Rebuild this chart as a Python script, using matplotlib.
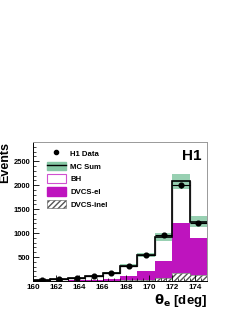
import numpy as np
import matplotlib.pyplot as plt
from matplotlib.patches import Patch
from matplotlib.lines import Line2D
from matplotlib.ticker import MultipleLocator

plt.rcParams['font.family'] = ['Liberation Sans', 'DejaVu Sans']
plt.rcParams['font.weight'] = 'bold'

# bin edges in theta_e (deg)
edges = np.arange(160, 175.01, 1.5)
centers = 0.5 * (edges[:-1] + edges[1:])

# values
data = [12, 35, 70, 98, 172, 309, 545, 955, 1993, 1214]
data_err = [5, 7, 10, 12, 15, 20, 25, 32, 45, 36]
mc_sum = [20, 35, 63, 105, 168, 323, 540, 919, 2077, 1236]
mc_err = [3, 4, 6, 9, 14, 27, 45, 76, 165, 115]
dvcs_inel = [2, 3, 5, 5, 8, 12, 25, 55, 168, 126]
dvcs_el = [3, 5, 8, 15, 40, 100, 185, 365, 1040, 780]

mc_sum = np.array(mc_sum)
mc_err = np.array(mc_err)
inel = np.array(dvcs_inel)
el_top = inel + np.array(dvcs_el)

magenta = '#be14be'
green = '#86c8a5'

fig = plt.figure(figsize=(2.4, 3.11), dpi=100)
ax = fig.add_axes([0.1375, 0.0965, 0.725, 0.4469])

# stacked MC: inel (hatched), el (magenta), BH (white, up to sum)
ax.stairs(mc_sum, edges, baseline=el_top, fill=True, facecolor='white',
          edgecolor='none')
ax.stairs(mc_sum, edges, baseline=None, color='#888888', lw=1.0)
ax.stairs(el_top, edges, baseline=inel, fill=True, color=magenta, lw=0)
ax.stairs(inel, edges, baseline=0, fill=True, facecolor='white',
          edgecolor='#555555', hatch='//////', lw=0.4)

# MC sum band and line
ax.stairs(mc_sum + mc_err, edges, baseline=mc_sum - mc_err, fill=True,
          color=green, alpha=0.85, lw=0)
ax.stairs(mc_sum, edges, baseline=None, color='black', lw=1.2)

# data
ax.errorbar(centers, data, xerr=0.75, yerr=data_err, fmt='o', color='black',
            ms=3.4, elinewidth=0.8, capsize=0)

ax.set_xlim(160, 175)
ax.set_ylim(0, 2900)
ax.xaxis.set_major_locator(MultipleLocator(2))
ax.xaxis.set_minor_locator(MultipleLocator(0.5))
ax.yaxis.set_major_locator(MultipleLocator(500))
ax.yaxis.set_minor_locator(MultipleLocator(100))
ax.set_yticks([500, 1000, 1500, 2000, 2500])
ax.tick_params(which='both', direction='in', labelsize=5.4, top=False,
               right=False, pad=2)
ax.tick_params(axis='x', labelsize=5.8)
ax.tick_params(which='major', length=4, width=0.6)
ax.tick_params(which='minor', length=2, width=0.5)
for s in ['top', 'right']:
    ax.spines[s].set_color('#999999')
for s in ax.spines.values():
    s.set_linewidth(0.7)

ax.set_ylabel('Events', fontsize=9, fontweight='bold', loc='top')
ax.yaxis.set_label_coords(-0.128, 1.0)
ax.set_xlabel(r'$\mathbf{\theta_e}$ [deg]', fontsize=9.5, fontweight='bold',
              loc='right', labelpad=1)
ax.text(0.97, 0.95, 'H1', transform=ax.transAxes, ha='right', va='top',
        fontsize=11, fontweight='bold')

handles = [
    Line2D([], [], marker='o', color='black', ls='none', ms=3),
    (Patch(color=green), Line2D([], [], color='black', lw=1)),
    Patch(facecolor='white', edgecolor='#d050d0', lw=0.8),
    Patch(color=magenta),
    Patch(facecolor='white', edgecolor='#555555', hatch='//////', lw=0.4),
]
labels = ['H1 Data', 'MC Sum', 'BH', 'DVCS-el', 'DVCS-inel']
ax.legend(handles, labels, loc='upper left', bbox_to_anchor=(0.04, 1.0),
          frameon=False, fontsize=5.6, handlelength=2.4, handleheight=1.3,
          labelspacing=0.5, handletextpad=0.6, borderpad=0.4)

fig.savefig('out.png', dpi=100)
